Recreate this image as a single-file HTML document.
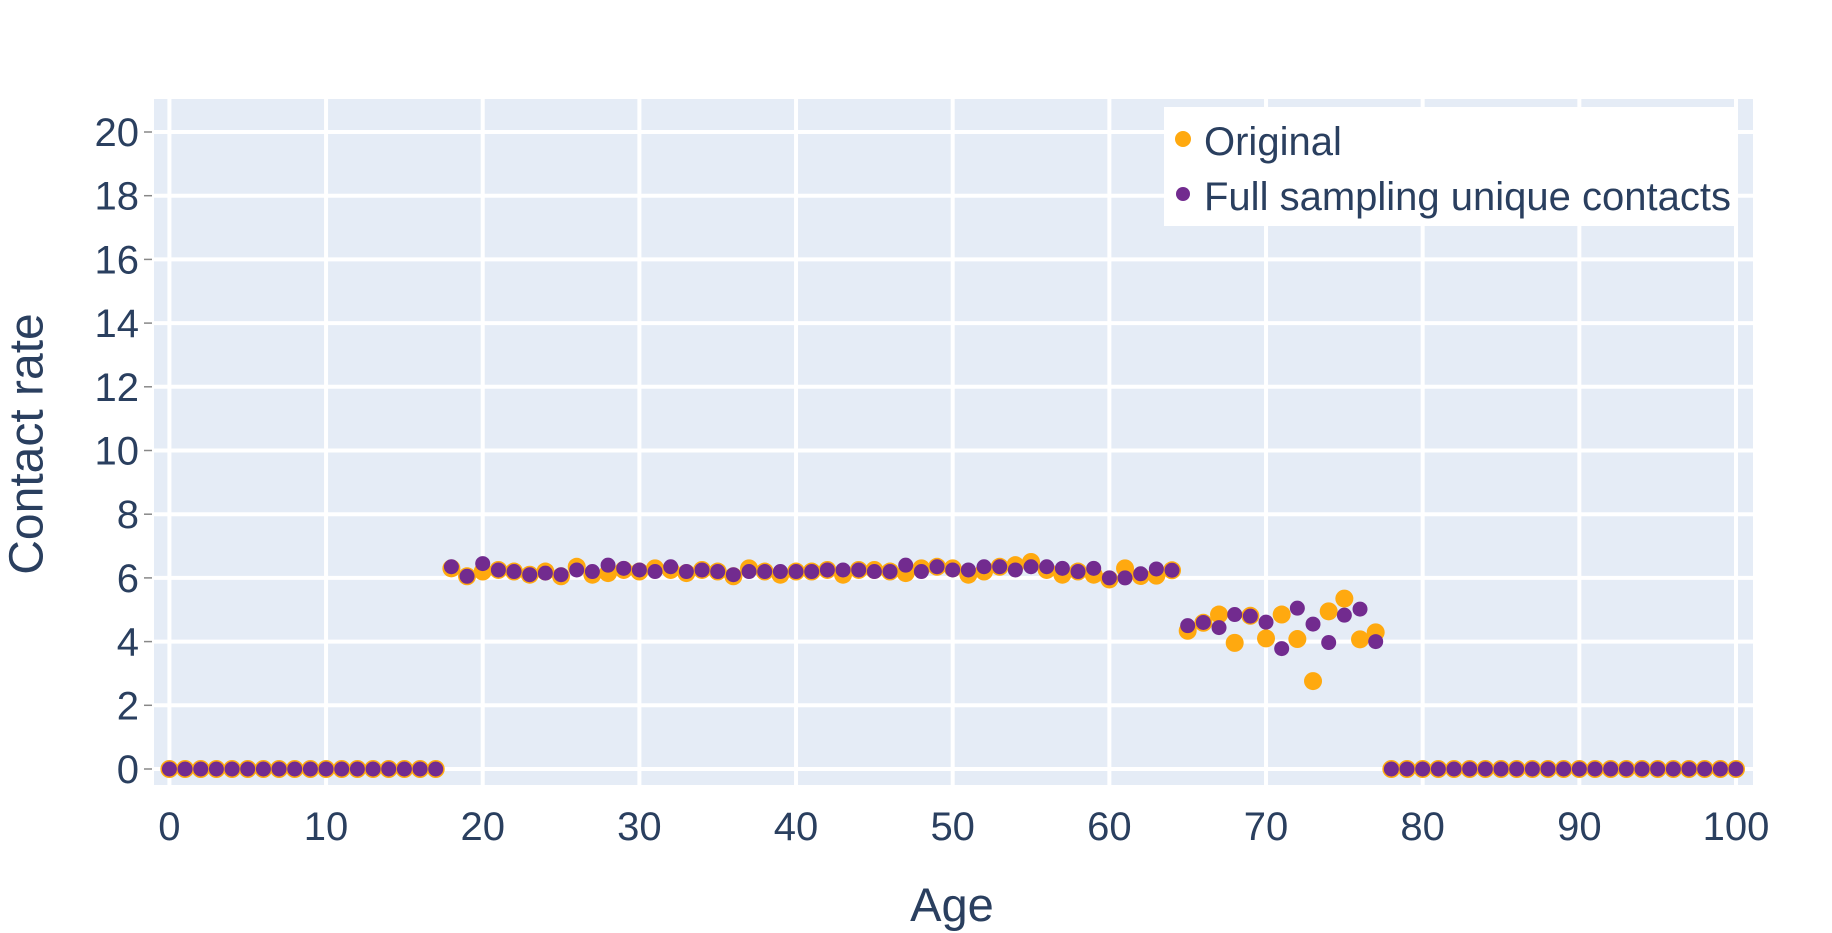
<!DOCTYPE html>
<html><head><meta charset="utf-8">
<style>
html,body{margin:0;padding:0;background:#fff;}
svg{display:block;font-family:"Liberation Sans",sans-serif;}
</style></head>
<body>
<svg id="chart" width="1832" height="933" viewBox="0 0 1832 933">
  <rect x="154" y="99" width="1599" height="686" fill="#e5ecf6"/>
  <g id="grid"></g>
  <g id="yticks"></g>
  <g id="xticks"></g>
  <g id="s1"></g>
  <g id="s2"></g>
  <text x="27" y="444" transform="rotate(-90 27 444)" text-anchor="middle" dominant-baseline="central" font-size="48" fill="#2a3f5f">Contact rate</text>
  <text x="952" y="921" text-anchor="middle" font-size="47" fill="#2a3f5f">Age</text>
  <g>
    <rect x="1164" y="107" width="572" height="119" fill="#ffffff"/>
    <circle cx="1183" cy="139" r="8" fill="#ffa90f"/>
    <text x="1204" y="155" font-size="40" fill="#2a3f5f">Original</text>
    <circle cx="1183" cy="194" r="7" fill="#722b8f"/>
    <text x="1204" y="210" font-size="40" fill="#2a3f5f">Full sampling unique contacts</text>
  </g>
</svg>
<script>
const ages = Array.from({length:101},(_,i)=>i);
const original = [0,0,0,0,0,0,0,0,0,0,0,0,0,0,0,0,0,0,
6.3,6.05,6.2,6.25,6.2,6.1,6.2,6.05,6.35,6.1,6.15,6.25,6.2,6.3,6.25,6.15,6.25,6.2,6.05,6.3,6.2,6.1,6.2,6.2,6.25,6.1,6.25,6.25,6.2,6.15,6.3,6.35,6.3,6.1,6.2,6.35,6.4,6.5,6.25,6.1,6.2,6.1,5.95,6.3,6.06,6.07,6.24,
4.34,4.59,4.85,3.96,4.81,4.10,4.85,4.08,2.76,4.95,5.35,4.07,4.29,
0,0,0,0,0,0,0,0,0,0,0,0,0,0,0,0,0,0,0,0,0,0,0];
const fullSampling = [0,0,0,0,0,0,0,0,0,0,0,0,0,0,0,0,0,0,
6.35,6.05,6.45,6.25,6.2,6.1,6.15,6.1,6.25,6.2,6.4,6.3,6.25,6.2,6.35,6.2,6.25,6.2,6.1,6.2,6.2,6.2,6.2,6.2,6.25,6.25,6.25,6.2,6.2,6.4,6.2,6.35,6.25,6.25,6.35,6.35,6.25,6.35,6.35,6.3,6.2,6.3,6.0,6.0,6.13,6.28,6.24,
4.50,4.6,4.44,4.85,4.8,4.61,3.78,5.05,4.55,3.97,4.83,5.02,4.0,
0,0,0,0,0,0,0,0,0,0,0,0,0,0,0,0,0,0,0,0,0,0,0];
const xTickVals = [0,10,20,30,40,50,60,70,80,90,100];
const yTickVals = [0,2,4,6,8,10,12,14,16,18,20];

const NS = "http://www.w3.org/2000/svg";
const xs = v => 169.4 + v*15.666;
const ys = v => 769 - v*31.85;
function mk(tag, attrs, parent){const e=document.createElementNS(NS,tag);for(const k in attrs)e.setAttribute(k,attrs[k]);parent.appendChild(e);return e;}
const grid=document.getElementById('grid'), yt=document.getElementById('yticks'), xt=document.getElementById('xticks');
yTickVals.forEach(v=>{
  const l=mk('line',{x1:154,x2:1753,y1:ys(v),y2:ys(v),stroke:'#fff','stroke-width':4},grid);
  
  
  const tk=mk('line',{x1:144,x2:152,y1:ys(v),y2:ys(v),stroke:'#888','stroke-width':1.5},yt);
  
  
  const t=mk('text',{x:139,y:ys(v)+14,'text-anchor':'end','font-size':40,fill:'#2a3f5f'},yt);
  t.textContent=v;
  
  
});
xTickVals.forEach(v=>{
  const l=mk('line',{x1:xs(v),x2:xs(v),y1:99,y2:785,stroke:'#fff','stroke-width':4},grid);
  
  
  const t=mk('text',{x:xs(v),y:840,'text-anchor':'middle','font-size':40,fill:'#2a3f5f'},xt);
  t.textContent=v;
  
  
});
const s1=document.getElementById('s1'), s2=document.getElementById('s2');
ages.forEach((a,i)=>{
  const c=mk('circle',{cx:xs(a),cy:ys(original[i]),r:9,fill:'#ffa90f'},s1);
  
  
});
ages.forEach((a,i)=>{
  const c=mk('circle',{cx:xs(a),cy:ys(fullSampling[i]),r:7.5,fill:'#722b8f'},s2);
  
  
});
</script>
</body></html>
